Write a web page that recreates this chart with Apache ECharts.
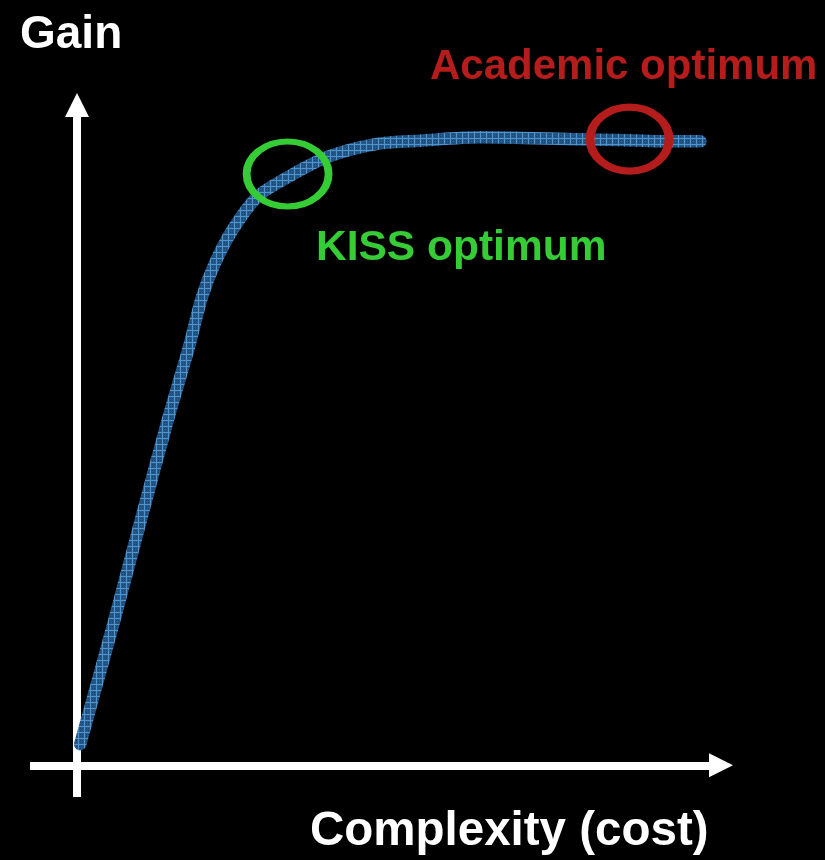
<!DOCTYPE html>
<html>
<head>
<meta charset="utf-8">
<style>
  html, body { margin: 0; padding: 0; background: #000; }
  #chart { width: 825px; height: 860px; }
</style>
<script src="https://cdn.jsdelivr.net/npm/echarts@6/dist/echarts.min.js"></script>
</head>
<body>
<div id="chart"></div>
<script>
// ---- data (arbitrary units: complexity on x, gain on y) ----
const complexity = [0.5, 5.8, 9.9, 14.1, 17.4, 19.4, 21.4, 24.1, 28.0, 32.6, 38.8, 46.6, 53.3, 62.6, 78.1, 84.3, 90.5, 96.8];
const gain       = [3.2, 22.0, 37.1, 52.3, 63.4, 70.9, 76.0, 81.0, 86.1, 89.0, 92.1, 94.1, 94.6, 95.1, 94.8, 94.7, 94.5, 94.5];
const kissPoint = [32.7, 89.55];
const academicPoint = [85.8, 94.84];
const labels = {
  yTitle: 'Gain',
  xTitle: 'Complexity (cost)',
  kiss: 'KISS optimum',
  academic: 'Academic optimum'
};

// ---- texture for the curve ----
function makePattern() {
  const c = document.createElement('canvas');
  c.width = 6; c.height = 6;
  const g = c.getContext('2d');
  g.fillStyle = '#25598a';
  g.fillRect(0, 0, 6, 6);
  g.fillStyle = '#1c4670';
  g.fillRect(2, 2, 1, 1); g.fillRect(4, 4, 1, 1); g.fillRect(2, 4, 1, 1); g.fillRect(4, 2, 1, 1);
  g.fillStyle = '#4f93cc';
  g.fillRect(0, 0, 6, 1);
  g.fillRect(0, 0, 1, 6);
  return c;
}

const chart = echarts.init(document.getElementById('chart'), null, { renderer: 'canvas' });
const font = "'Liberation Sans', Arial, Helvetica, sans-serif";

const axisCommon = {
  type: 'value',
  axisTick: { show: false },
  axisLabel: { show: false },
  splitLine: { show: false },
  axisLine: {
    show: true,
    onZero: true,
    symbol: ['none', 'triangle'],
    symbolSize: [24, 24],
    lineStyle: { color: '#ffffff', width: 8, cap: 'butt' }
  }
};

const ellipsePath = 'path://M0,50 A50,50 0 1,1 100,50 A50,50 0 1,1 0,50 Z';

chart.setOption({
  backgroundColor: '#000000',
  animation: false,
  grid: { left: 30, right: 104, top: 105, bottom: 63 },
  xAxis: Object.assign({}, axisCommon, { min: -7.3, max: 100 }),
  yAxis: Object.assign({}, axisCommon, { min: -4.8, max: 100 }),
  series: [
    {
      type: 'line',
      data: complexity.map((x, i) => [x, gain[i]]),
      smooth: 0.3,
      showSymbol: false,
      symbol: 'none',
      z: 3,
      lineStyle: {
        width: 12.5,
        cap: 'round',
        join: 'round',
        color: { image: makePattern(), repeat: 'repeat' }
      }
    },
    {
      type: 'scatter',
      data: [kissPoint],
      symbol: ellipsePath,
      symbolSize: [82, 65],
      z: 4,
      itemStyle: { color: 'rgba(0,0,0,0)', borderColor: '#35cc35', borderWidth: 7, opacity: 1 }
    },
    {
      type: 'scatter',
      data: [academicPoint],
      symbol: ellipsePath,
      symbolSize: [79, 64],
      z: 4,
      itemStyle: { color: 'rgba(0,0,0,0)', borderColor: '#b51c1c', borderWidth: 8, opacity: 1 }
    }
  ],
  graphic: [
    { type: 'text', left: 20, top: 12, style: { text: labels.yTitle, fill: '#ffffff', font: 'bold 46px ' + font } },
    { type: 'text', left: 430, top: 46, style: { text: labels.academic, fill: '#b51c1c', font: 'bold 42px ' + font } },
    { type: 'text', left: 316, top: 227, style: { text: labels.kiss, fill: '#35cc35', font: 'bold 42.5px ' + font } },
    { type: 'text', left: 310, top: 808, style: { text: labels.xTitle, fill: '#ffffff', font: 'bold 47.5px ' + font } }
  ]
});
</script>
</body>
</html>
